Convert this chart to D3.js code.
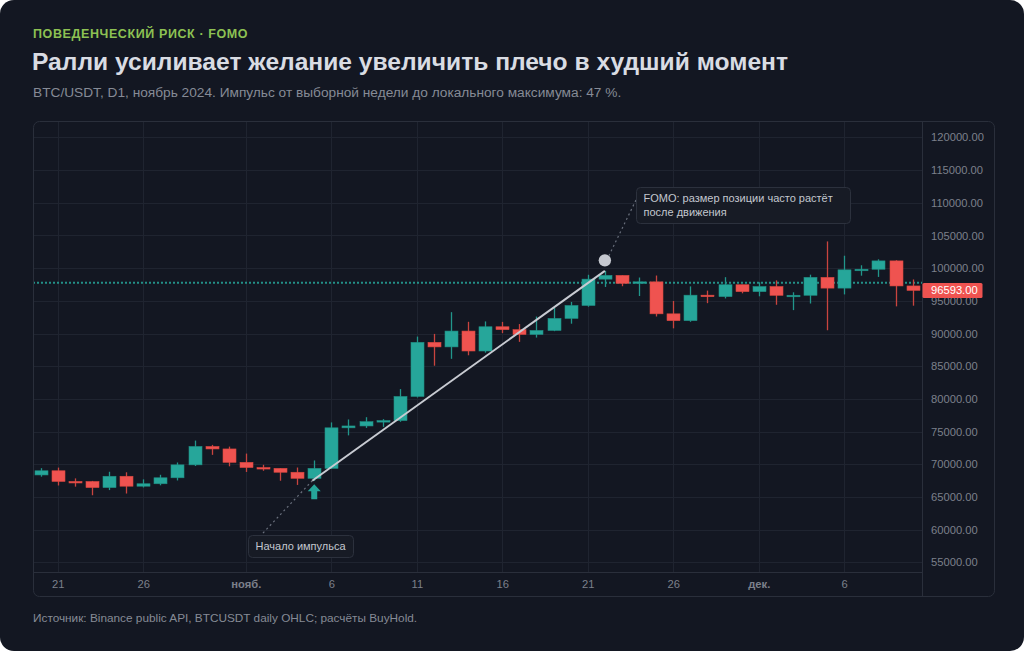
<!DOCTYPE html>
<html>
<head>
<meta charset="utf-8">
<script src="https://cdn.jsdelivr.net/npm/d3@7/dist/d3.min.js"></script>
<style>
  html, body { margin: 0; padding: 0; background: #ffffff; }
  svg { display: block; font-family: "Liberation Sans", Arial, Helvetica, sans-serif; }
</style>
</head>
<body>
<svg id="chart" width="1024" height="651"></svg>
<script>
// ---- DATA (BTC/USDT daily) ----
const dates = ["2024-10-20","2024-10-21","2024-10-22","2024-10-23","2024-10-24","2024-10-25","2024-10-26","2024-10-27","2024-10-28","2024-10-29","2024-10-30","2024-10-31",
  "2024-11-01","2024-11-02","2024-11-03","2024-11-04","2024-11-05","2024-11-06","2024-11-07","2024-11-08","2024-11-09","2024-11-10","2024-11-11","2024-11-12","2024-11-13","2024-11-14","2024-11-15","2024-11-16","2024-11-17","2024-11-18","2024-11-19","2024-11-20","2024-11-21","2024-11-22","2024-11-23","2024-11-24","2024-11-25","2024-11-26","2024-11-27","2024-11-28","2024-11-29","2024-11-30",
  "2024-12-01","2024-12-02","2024-12-03","2024-12-04","2024-12-05","2024-12-06","2024-12-07","2024-12-08","2024-12-09","2024-12-10"];
const opens  = [68362,69001,67367,67361,66432,68161,66642,67014,67929,69907,72720,72340,70292,69496,69374,68775,67850,69372,75571,75857,76509,76677,80370,88648,87952,90375,87325,91032,90587,89855,90465,92310,94287,98317,98892,97672,97900,93010,91965,95863,95644,97461,96407,97185,95840,95849,98587,96945,99740,99831,101109,97276];
const highs  = [69400,69487,67836,67451,68850,68771,67685,68388,70270,73620,72961,72700,71632,69914,69391,69500,70577,76400,76849,77199,76900,81500,89530,89940,93265,91790,91850,91779,91449,92594,93905,94831,98984,99588,98906,98564,98871,94973,97208,96564,98619,97463,97836,98130,96305,99000,104088,101898,100439,101351,101215,98270];
const lows   = [68100,66750,66571,65260,66048,65521,66450,66780,67520,69730,71436,69685,68820,69000,67478,66835,67475,69298,74416,75555,75714,76492,80216,85072,86127,86668,87073,90056,88722,89376,90357,91500,94100,97122,97232,95734,92600,90791,91792,94640,95364,96150,95693,94395,93578,94587,90500,95981,98844,98657,94150,94256];
const closes = [69001,67367,67361,66432,68161,66642,67014,67929,69907,72720,72340,70292,69496,69374,68775,67850,69372,75571,75857,76509,76677,80370,88647,87952,90375,87325,91032,90586,89855,90464,92310,94286,98317,98892,97672,97900,93010,91965,95863,95643,97461,96407,97185,95840,95849,98587,96945,99740,99831,101109,97276,96593];

const yTicks = [55000,60000,65000,70000,75000,80000,85000,90000,95000,100000,105000,110000,115000,120000];
const xTickDates  = ["2024-10-21","2024-10-26","2024-11-01","2024-11-06","2024-11-11","2024-11-16","2024-11-21","2024-11-26","2024-12-01","2024-12-06"];
const xTickLabels = ["21","26","нояб.","6","11","16","21","26","дек.","6"];
const monthTicks  = ["нояб.","дек."];

const refLevel = 97770;          // dotted reference level
const impulseStart = {date: "2024-11-05", value: 67475};
const impulseEnd   = {date: "2024-11-22", value: 99588};
const lastPrice = 96593;

const kicker   = "ПОВЕДЕНЧЕСКИЙ РИСК · FOMO";
const title    = "Ралли усиливает желание увеличить плечо в худший момент";
const subtitle = "BTC/USDT, D1, ноябрь 2024. Импульс от выборной недели до локального максимума: 47 %.";
const source   = "Источник: Binance public API, BTCUSDT daily OHLC; расчёты BuyHold.";
const noteStart = ["Начало импульса"];
const noteFomo  = ["FOMO: размер позиции часто растёт", "после движения"];

// ---- LAYOUT ----
const W = 1024, H = 651;
const panel = {x0: 33, y0: 121, x1: 995, y1: 597};
const pane  = {x0: 33, x1: 922, y0: 121, y1: 572};
const UP = "#26a69a", DOWN = "#ef5350";
const GRID = "#1f2430", BORDER = "#2a2f3b";
const AXIS_FONT = 11.2;
const DAY = 86400000;
const parse = s => new Date(s + "T00:00:00Z");

const bars = dates.map((d, i) => ({date: parse(d), o: opens[i], h: highs[i], l: lows[i], c: closes[i]}));

const x = d3.scaleUtc()
  .domain([+bars[0].date - 0.45 * DAY, +bars[bars.length - 1].date + 0.55 * DAY])
  .range([pane.x0, pane.x1]);
const y = d3.scaleLinear().domain([55000, 120000]).range([562.3, 137.4]);
const step = x(parse("2024-10-21")) - x(parse("2024-10-20"));
const bodyW = Math.round(step * 0.78);

const svg = d3.select("#chart");

// card background
svg.append("rect").attr("x", 0).attr("y", 0).attr("width", W).attr("height", H)
  .attr("rx", 14).attr("fill", "#131722");

// header
svg.append("text").attr("x", 33).attr("y", 37.5).text(kicker)
  .attr("fill", "#8dc153").attr("font-size", 12.5).attr("font-weight", 700).attr("letter-spacing", 0.6);
svg.append("text").attr("x", 32).attr("y", 70).text(title)
  .attr("fill", "#d9dce3").attr("font-size", 24.6).attr("font-weight", 700);
svg.append("text").attr("x", 33).attr("y", 96.5).text(subtitle)
  .attr("fill", "#868b96").attr("font-size", 13.7);
svg.append("text").attr("x", 33).attr("y", 621.5).text(source)
  .attr("fill", "#868b96").attr("font-size", 11.8);

// panel
svg.append("rect").attr("x", panel.x0 + 0.5).attr("y", panel.y0 + 0.5)
  .attr("width", panel.x1 - panel.x0 - 1).attr("height", panel.y1 - panel.y0 - 1)
  .attr("rx", 6).attr("fill", "#131722").attr("stroke", BORDER);

const clipId = "paneClip";
svg.append("clipPath").attr("id", clipId).append("rect")
  .attr("x", pane.x0 + 1).attr("y", pane.y0 + 1).attr("width", pane.x1 - pane.x0 - 1).attr("height", pane.y1 - pane.y0 - 1);

const plot = svg.append("g").attr("clip-path", `url(#${clipId})`);

// grid
plot.append("g").selectAll("line").data(yTicks).join("line")
  .attr("x1", pane.x0).attr("x2", pane.x1)
  .attr("y1", d => Math.round(y(d)) + 0.5).attr("y2", d => Math.round(y(d)) + 0.5)
  .attr("stroke", GRID);
plot.append("g").selectAll("line").data(xTickDates).join("line")
  .attr("x1", d => Math.round(x(parse(d))) + 0.5).attr("x2", d => Math.round(x(parse(d))) + 0.5)
  .attr("y1", pane.y0).attr("y2", pane.y1)
  .attr("stroke", GRID);

// separators
svg.append("line").attr("x1", pane.x1 + 0.5).attr("x2", pane.x1 + 0.5).attr("y1", panel.y0 + 1).attr("y2", panel.y1 - 1).attr("stroke", BORDER);
svg.append("line").attr("x1", panel.x0 + 1).attr("x2", pane.x1).attr("y1", pane.y1 + 0.5).attr("y2", pane.y1 + 0.5).attr("stroke", BORDER);

// reference dotted level
plot.append("line").attr("x1", pane.x0).attr("x2", pane.x1)
  .attr("y1", y(refLevel)).attr("y2", y(refLevel))
  .attr("stroke", UP).attr("stroke-width", 2).attr("stroke-dasharray", "2 2").attr("opacity", 0.85);

// candles
const cg = plot.append("g");
cg.selectAll("line.wick").data(bars).join("line").attr("class", "wick")
  .attr("x1", d => Math.round(x(d.date)) + 0.5).attr("x2", d => Math.round(x(d.date)) + 0.5)
  .attr("y1", d => y(d.h)).attr("y2", d => y(d.l))
  .attr("stroke", d => d.c >= d.o ? "#21968b" : "#c9443f").attr("stroke-width", 1.3);
cg.selectAll("rect.body").data(bars).join("rect").attr("class", "body")
  .attr("x", d => Math.round(x(d.date)) + 0.5 - bodyW / 2)
  .attr("width", bodyW)
  .attr("y", d => y(Math.max(d.o, d.c)))
  .attr("height", d => Math.max(1.5, Math.abs(y(d.o) - y(d.c))))
  .attr("fill", d => d.c >= d.o ? UP : DOWN)
  .attr("stroke", d => d.c >= d.o ? "#1f8f84" : "#d9473f").attr("stroke-width", 0.6);

// impulse line
const sx = x(parse(impulseStart.date)), sy = y(impulseStart.value);
const ex = x(parse(impulseEnd.date)), ey = y(impulseEnd.value);
plot.append("line").attr("x1", sx - 2).attr("y1", sy).attr("x2", ex).attr("y2", ey)
  .attr("stroke", "#c8cbd2").attr("stroke-width", 2);

// markers: arrow below start bar, circle above end bar
const ay = sy + 3.5;
plot.append("path")
  .attr("d", `M${sx},${ay} L${sx + 6.5},${ay + 7} L${sx + 3},${ay + 7} L${sx + 3},${ay + 15} L${sx - 3},${ay + 15} L${sx - 3},${ay + 7} L${sx - 6.5},${ay + 7} Z`)
  .attr("fill", UP);
plot.append("circle").attr("cx", ex).attr("cy", ey - 10.5).attr("r", 6.2).attr("fill", "#c5c8cf");

// annotation connectors
plot.append("line").attr("x1", 263).attr("y1", 533).attr("x2", sx - 2).attr("y2", sy)
  .attr("stroke", "#6a707d").attr("stroke-width", 1.2).attr("stroke-dasharray", "2 3");
plot.append("line").attr("x1", ex + 4).attr("y1", ey - 15).attr("x2", 637).attr("y2", 198)
  .attr("stroke", "#6a707d").attr("stroke-width", 1.2).attr("stroke-dasharray", "2 3");

// annotation boxes
function note(x0, y0, w, h, lines) {
  const g = svg.append("g");
  g.append("rect").attr("x", x0 + 0.5).attr("y", y0 + 0.5).attr("width", w).attr("height", h)
    .attr("rx", 4).attr("fill", "#171b25").attr("stroke", "#2c313d");
  lines.forEach((t, i) => g.append("text").attr("x", x0 + 7.5).attr("y", y0 + 15 + i * 14)
    .text(t).attr("fill", "#c3c7cf").attr("font-size", 11));
}
note(248, 535, 105, 22, noteStart);
note(636, 187, 214, 36, noteFomo);

// y axis
const yAxis = svg.append("g").attr("transform", `translate(${pane.x1},0)`)
  .call(d3.axisRight(y).tickValues(yTicks).tickFormat(d3.format(".2f")).tickSize(0).tickPadding(9));
yAxis.select(".domain").remove();
yAxis.selectAll("text").attr("fill", "#7c808b").attr("font-size", AXIS_FONT).attr("font-family", "Liberation Sans, Arial, sans-serif");

// last price label (drawn over the axis, as in the reference)
const ly = y(lastPrice);
svg.append("rect").attr("x", pane.x1 + 0.5).attr("y", ly - 7.5).attr("width", 60).attr("height", 15)
  .attr("rx", 1.5).attr("fill", DOWN);
svg.append("text").attr("x", pane.x1 + 9).attr("y", ly).attr("dy", "0.35em")
  .text(d3.format(".2f")(lastPrice)).attr("fill", "#ffffff").attr("font-size", AXIS_FONT);

// x axis
const xAxis = svg.append("g").attr("transform", `translate(0,${pane.y1})`)
  .call(d3.axisBottom(x).tickValues(xTickDates.map(parse)).tickFormat((d, i) => xTickLabels[i]).tickSize(0).tickPadding(8));
xAxis.select(".domain").remove();
xAxis.selectAll("text").attr("fill", "#7c808b").attr("font-size", AXIS_FONT)
  .attr("font-family", "Liberation Sans, Arial, sans-serif")
  .attr("font-weight", (d, i) => monthTicks.includes(xTickLabels[i]) ? 700 : 400);
</script>
</body>
</html>
